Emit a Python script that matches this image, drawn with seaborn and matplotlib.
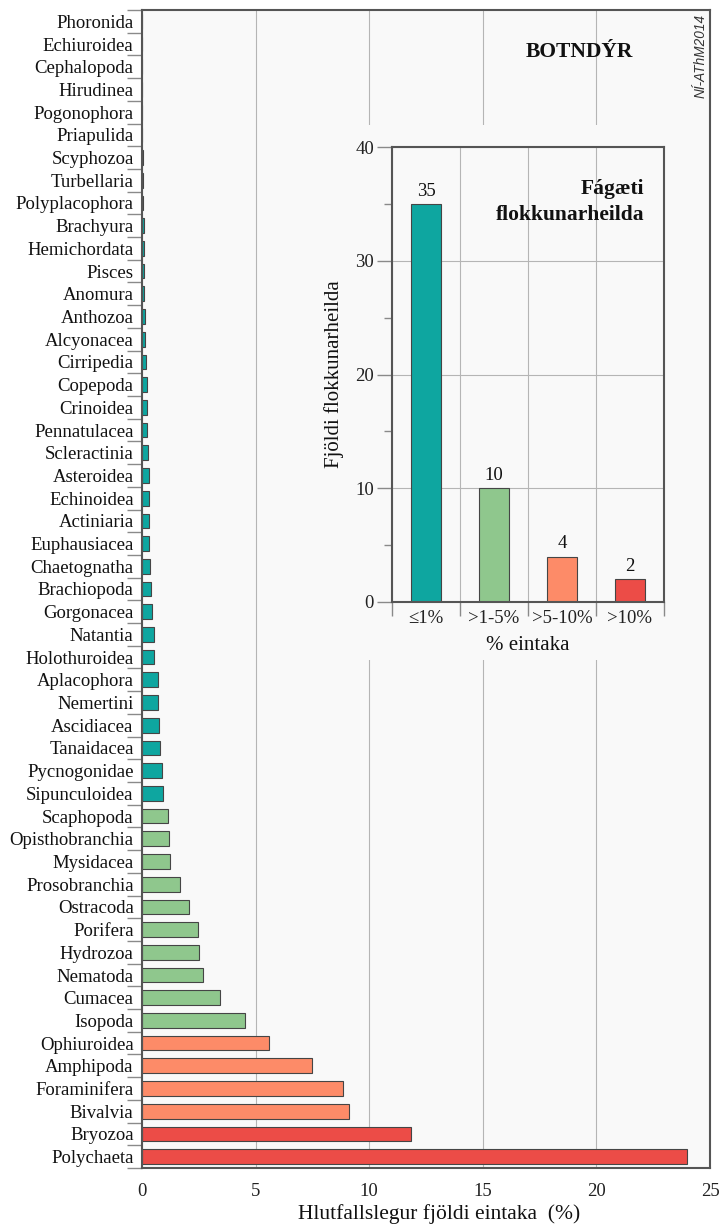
import matplotlib
matplotlib.use("Agg")
import matplotlib.pyplot as plt
import numpy as np
import pandas as pd
import seaborn as sb
from matplotlib.patches import Rectangle

# Taxa, top to bottom, and their share of specimens (%)
taxa = ['Phoronida', 'Echiuroidea', 'Cephalopoda', 'Hirudinea', 'Pogonophora',
        'Priapulida', 'Scyphozoa', 'Turbellaria', 'Polyplacophora', 'Brachyura',
        'Hemichordata', 'Pisces', 'Anomura', 'Anthozoa', 'Alcyonacea',
        'Cirripedia', 'Copepoda', 'Crinoidea', 'Pennatulacea', 'Scleractinia',
        'Asteroidea', 'Echinoidea', 'Actiniaria', 'Euphausiacea', 'Chaetognatha',
        'Brachiopoda', 'Gorgonacea', 'Natantia', 'Holothuroidea', 'Aplacophora',
        'Nemertini', 'Ascidiacea', 'Tanaidacea', 'Pycnogonidae', 'Sipunculoidea',
        'Scaphopoda', 'Opisthobranchia', 'Mysidacea', 'Prosobranchia', 'Ostracoda',
        'Porifera', 'Hydrozoa', 'Nematoda', 'Cumacea', 'Isopoda',
        'Ophiuroidea', 'Amphipoda', 'Foraminifera', 'Bivalvia', 'Bryozoa',
        'Polychaeta']
percent = [0.005, 0.005, 0.005, 0.005, 0.01,
           0.01, 0.05, 0.06, 0.06, 0.07,
           0.07, 0.09, 0.09, 0.15, 0.15,
           0.18, 0.20, 0.20, 0.22, 0.25,
           0.29, 0.31, 0.31, 0.32, 0.35,
           0.38, 0.46, 0.51, 0.54, 0.69,
           0.69, 0.75, 0.78, 0.88, 0.93,
           1.14, 1.20, 1.24, 1.67, 2.08,
           2.45, 2.51, 2.69, 3.45, 4.53,
           5.61, 7.47, 8.84, 9.12, 11.82,
           24.0]
rarity = (['≤1%'] * 35 + ['>1-5%'] * 10 + ['>5-10%'] * 4 + ['>10%'] * 2)

# Inset: number of taxa in each class
classes = ['≤1%', '>1-5%', '>5-10%', '>10%']
counts = [35, 10, 4, 2]
colors = ['#0EA6A0', '#8FC78D', '#FD8B68', '#EC4C47']

df = pd.DataFrame({'taxon': taxa, 'pct': percent, 'cls': rarity})
df_in = pd.DataFrame({'cls': classes, 'n': counts})
pal = dict(zip(classes, colors))

sb.set_style("white")
plt.rcParams['font.family'] = ['Liberation Serif', 'DejaVu Serif']

fig = plt.figure(figsize=(7.26, 12.26), dpi=100)
ax = fig.add_axes([142 / 726, 58 / 1226, 568 / 726, 1158 / 1226])
ax.set_facecolor('#F9F9F9')

sb.barplot(data=df, x='pct', y='taxon', hue='cls', palette=pal, dodge=False,
           orient='h', width=0.65, edgecolor='#454545', linewidth=0.8,
           saturation=1, legend=False, ax=ax)

ax.set_xlim(0, 25)
ax.set_ylim(50.5, -0.5)
ax.set_xticks([0, 5, 10, 15, 20, 25])
ax.xaxis.grid(True, color='#B5B5B5', linewidth=0.8)
ax.set_axisbelow(True)
ax.tick_params(axis='x', length=0, pad=11, labelsize=13.5, colors='#222222')
ax.tick_params(axis='y', which='major', length=0, pad=6, labelsize=13.5, labelcolor='#111111')
ax.set_yticks(np.arange(-0.5, 51, 1), minor=True)
ax.tick_params(axis='y', which='minor', left=True, length=11, width=1, color='#8A8A8A')
ax.set_ylabel('')
ax.set_xlabel('Hlutfallslegur fjöldi eintaka  (%)', fontsize=15.5, color='#111111')
ax.xaxis.set_label_coords(0.523, -0.031)
for s in ax.spines.values():
    s.set_color('#555555')
    s.set_linewidth(1.5)

# hide the main grid behind the inset
ax.add_patch(Rectangle((290 / 726, 1 - 660 / 1226), 415 / 726, 535 / 1226,
                       transform=fig.transFigure, facecolor='#F9F9F9',
                       edgecolor='none', zorder=1.5))

fig.text(579 / 726, 1 - 52 / 1226, 'BOTNDÝR', ha='center', va='center',
         fontsize=15.5, fontweight='bold', color='#111111')
fig.text(701 / 726, 1 - 56 / 1226, 'NÍ-AThM2014', ha='center', va='center',
         rotation=90, fontsize=9.8, style='italic', family='Liberation Sans',
         color='#333333')

# Inset
ax_in = fig.add_axes([392 / 726, 1 - 602 / 1226, 272 / 726, 455 / 1226])
ax_in.set_facecolor('#F9F9F9')
sb.barplot(data=df_in, x='cls', y='n', hue='cls', palette=pal, dodge=False,
           width=0.44, edgecolor='#454545', linewidth=0.8, saturation=1,
           legend=False, ax=ax_in)
for c in ax_in.containers:
    ax_in.bar_label(c, padding=3, fontsize=13.5, color='#111111')

ax_in.set_xlim(-0.5, 3.5)
ax_in.set_ylim(0, 40)
ax_in.set_yticks([0, 10, 20, 30, 40])
ax_in.set_yticks([5, 15, 25, 35], minor=True)
ax_in.set_xticks(np.arange(-0.5, 4, 1), minor=True)
ax_in.yaxis.grid(True, which='major', color='#B5B5B5', linewidth=0.8)
ax_in.xaxis.grid(True, which='minor', color='#B5B5B5', linewidth=0.8)
ax_in.set_axisbelow(True)
ax_in.tick_params(axis='y', which='major', left=True, length=11, width=1, color='#8A8A8A',
                  labelsize=13.5, pad=2, labelcolor='#222222')
ax_in.tick_params(axis='y', which='minor', left=True, length=6, width=1, color='#8A8A8A')
ax_in.tick_params(axis='x', which='major', length=0, pad=6, labelsize=13.5,
                  labelcolor='#222222')
ax_in.tick_params(axis='x', which='minor', bottom=True, length=10, width=1, color='#8A8A8A')
ax_in.set_xlabel('% eintaka', fontsize=15, labelpad=6, color='#111111')
ax_in.set_ylabel('Fjöldi flokkunarheilda', fontsize=15, labelpad=8, color='#111111')
for s in ax_in.spines.values():
    s.set_color('#555555')
    s.set_linewidth(1.5)
ax_in.text(644 / 726, 1 - 202 / 1226, 'Fágæti\nflokkunarheilda', transform=fig.transFigure,
           ha='right', va='center', multialignment='right', fontsize=15.5,
           fontweight='bold', linespacing=1.45, color='#111111')

fig.savefig('out.png', dpi=100, facecolor='white')
